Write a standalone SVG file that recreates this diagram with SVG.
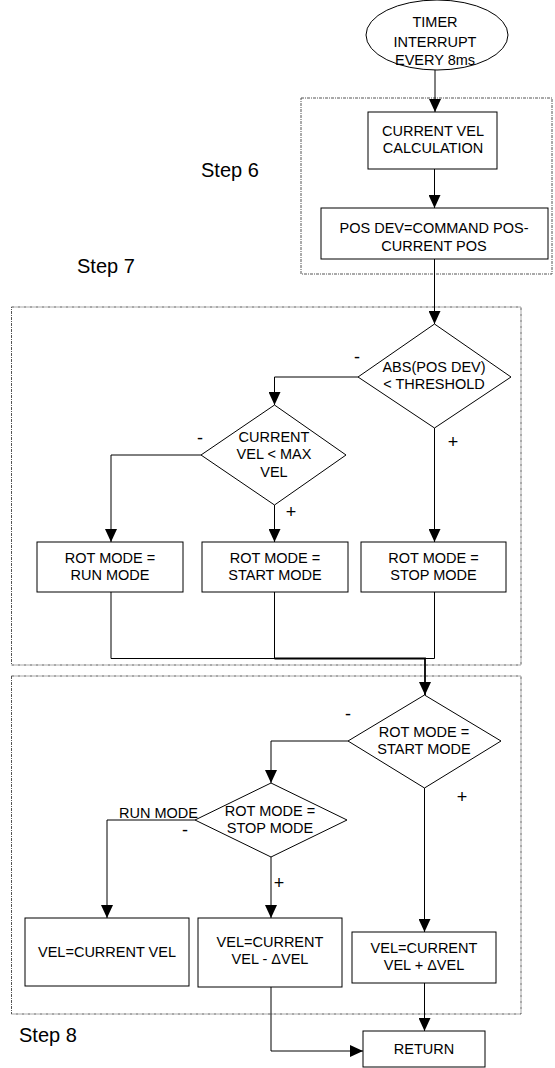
<svg xmlns="http://www.w3.org/2000/svg" width="555" height="1068" viewBox="0 0 555 1068">
<style>
.n{fill:#fff;stroke:#000;stroke-width:1}
.t{font-family:"Liberation Sans",Arial,sans-serif;font-size:14.5px;fill:#000;text-anchor:middle}
.l{font-family:"Liberation Sans",Arial,sans-serif;font-size:18px;fill:#000;text-anchor:middle}
.s{font-family:"Liberation Sans",Arial,sans-serif;font-size:20px;fill:#000}
.d{fill:none;stroke:#555;stroke-width:1;stroke-dasharray:3 1 1 1}
.c{fill:none;stroke:#000;stroke-width:1}
.b{fill:none;stroke:#000;stroke-width:1.8}
</style>
<defs>
<marker id="a" markerUnits="userSpaceOnUse" markerWidth="13" markerHeight="12" refX="13" refY="6" orient="auto">
<path d="M0,0 L13,6 L0,12 z" fill="#000"/>
</marker>
</defs>
<g id="groups">
<rect class="d" x="301" y="98" width="251" height="176"/>
<rect class="d" x="11.5" y="307" width="509.5" height="358"/>
<rect class="d" x="11.5" y="676" width="509.5" height="338"/>
<text class="s" x="201" y="177">Step 6</text>
<text class="s" x="77" y="273">Step 7</text>
<text class="s" x="19" y="1042">Step 8</text>
</g>
<g id="connectors">
<path class="c" d="M435,70 V112" marker-end="url(#a)"/>
<path class="c" d="M434.5,169 V208" marker-end="url(#a)"/>
<path class="c" d="M434.5,259 V324" marker-end="url(#a)"/>
<path class="c" d="M358,377 H274.5 V405" marker-end="url(#a)"/>
<path class="c" d="M434.5,428 V542" marker-end="url(#a)"/>
<path class="c" d="M201,455 H111 V542" marker-end="url(#a)"/>
<path class="c" d="M274.5,505 V542" marker-end="url(#a)"/>
<path class="c" d="M111,592 V658.5 H434.5 V592"/>
<path class="c" d="M274.5,592 V658.5"/>
<path class="b" d="M274.5,658.5 H425 V695" marker-end="url(#a)"/>
<path class="c" d="M348,741 H271 V783" marker-end="url(#a)"/>
<path class="c" d="M424.5,788 V932" marker-end="url(#a)"/>
<path class="c" d="M195,820 H107 V918" marker-end="url(#a)"/>
<path class="c" d="M271,857 V918" marker-end="url(#a)"/>
<path class="c" d="M424.5,983 V1031" marker-end="url(#a)"/>
<path class="c" d="M271,987 V1051 H363" marker-end="url(#a)"/>
<text class="l" x="357" y="363">-</text>
<text class="l" x="453" y="448">+</text>
<text class="l" x="200" y="444">-</text>
<text class="l" x="291" y="518">+</text>
<text class="l" x="348" y="720">-</text>
<text class="l" x="462" y="803">+</text>
<text class="l" x="185" y="836">-</text>
<text class="l" x="279" y="889">+</text>
<text class="t" x="119" y="818" style="text-anchor:start">RUN MODE</text>
</g>
<g id="start">
<ellipse class="n" cx="437" cy="35" rx="71" ry="35"/>
<text class="t" x="435" y="27">TIMER</text>
<text class="t" x="435" y="47">INTERRUPT</text>
<text class="t" x="435" y="65">EVERY 8ms</text>
</g>
<g id="vel-calc">
<rect class="n" x="368" y="112" width="129" height="57"/>
<text class="t" x="433" y="136">CURRENT VEL</text>
<text class="t" x="433" y="153">CALCULATION</text>
</g>
<g id="pos-dev">
<rect class="n" x="321" y="208" width="227" height="51"/>
<text class="t" x="434" y="233">POS DEV=COMMAND POS-</text>
<text class="t" x="434" y="251">CURRENT POS</text>
</g>
<g id="dec-threshold">
<polygon class="n" points="434.5,324 511,377 434.5,428 358,377"/>
<text class="t" x="434" y="372">ABS(POS DEV)</text>
<text class="t" x="434" y="389">&lt; THRESHOLD</text>
</g>
<g id="dec-maxvel">
<polygon class="n" points="274.5,405 346,455 274.5,505 201,455"/>
<text class="t" x="274" y="442">CURRENT</text>
<text class="t" x="274" y="459">VEL &lt; MAX</text>
<text class="t" x="274" y="477">VEL</text>
</g>
<g id="run-mode">
<rect class="n" x="37" y="542" width="146" height="50"/>
<text class="t" x="110" y="563">ROT MODE =</text>
<text class="t" x="110" y="580">RUN MODE</text>
</g>
<g id="start-mode">
<rect class="n" x="202" y="542" width="146" height="50"/>
<text class="t" x="275" y="563">ROT MODE =</text>
<text class="t" x="275" y="580">START MODE</text>
</g>
<g id="stop-mode">
<rect class="n" x="361" y="542" width="145" height="50"/>
<text class="t" x="433.5" y="563">ROT MODE =</text>
<text class="t" x="433.5" y="580">STOP MODE</text>
</g>
<g id="dec-start">
<polygon class="n" points="424.5,695 501,741 424.5,788 348,741"/>
<text class="t" x="424" y="737">ROT MODE =</text>
<text class="t" x="424" y="754">START MODE</text>
</g>
<g id="dec-stop">
<polygon class="n" points="271,783 347,820 271,857 195,820"/>
<text class="t" x="270" y="816">ROT MODE =</text>
<text class="t" x="270" y="833">STOP MODE</text>
</g>
<g id="vel-same">
<rect class="n" x="25" y="918" width="164" height="68"/>
<text class="t" x="107" y="957">VEL=CURRENT VEL</text>
</g>
<g id="vel-minus">
<rect class="n" x="198" y="918" width="144" height="69"/>
<text class="t" x="270" y="947">VEL=CURRENT</text>
<text class="t" x="270" y="964">VEL - ΔVEL</text>
</g>
<g id="vel-plus">
<rect class="n" x="352" y="932" width="144" height="51"/>
<text class="t" x="424" y="953">VEL=CURRENT</text>
<text class="t" x="424" y="970">VEL + ΔVEL</text>
</g>
<g id="return">
<rect class="n" x="363" y="1031" width="122" height="36"/>
<text class="t" x="424" y="1054">RETURN</text>
</g>
</svg>
